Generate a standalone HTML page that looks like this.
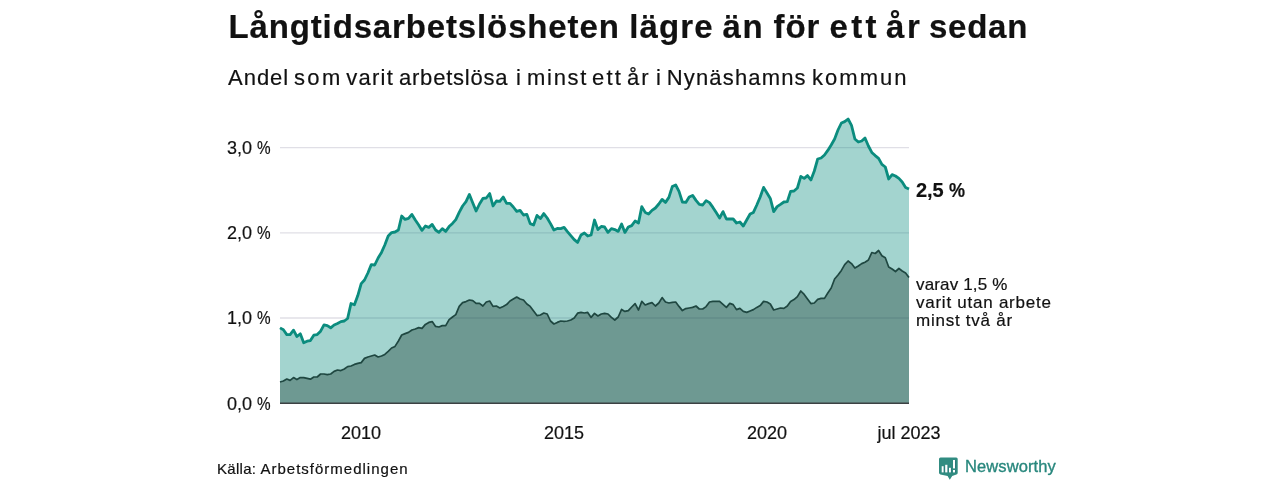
<!DOCTYPE html>
<html><head><meta charset="utf-8">
<style>
html,body{margin:0;padding:0;background:#fff;}
body{width:1280px;height:480px;position:relative;overflow:hidden;-webkit-font-smoothing:antialiased;font-family:"Liberation Sans",sans-serif;color:#111;-webkit-text-stroke:0.2px #111;}
.t{position:absolute;white-space:nowrap;line-height:1;will-change:transform;}
#title{left:0;top:9.5px;font-size:33px;font-weight:bold;letter-spacing:0.94px;}
#sub{left:0;top:66.6px;font-size:22px;letter-spacing:0.955px;}
.yl{position:absolute;font-size:18px;left:227px;line-height:1;white-space:nowrap;will-change:transform;}
.pc{display:inline-block;transform:scaleX(0.85);transform-origin:0 0;}
.xl{position:absolute;font-size:18px;line-height:1;white-space:nowrap;transform:translateX(-50%);will-change:transform;}
#src{left:216.5px;top:460.5px;font-size:15px;letter-spacing:1.0px;}
#v1{left:915.8px;top:179.6px;font-size:20px;font-weight:bold;letter-spacing:-0.1px;}
#v2{left:916px;top:276px;font-size:17px;line-height:18px;letter-spacing:0.75px;}
#v2 span{display:block;}
#nw{left:965px;top:457.5px;font-size:16.5px;color:#28877d;-webkit-text-stroke:0.35px #28877d;letter-spacing:0.1px;}
svg{position:absolute;left:0;top:0;}
</style></head><body>
<svg width="1280" height="480" viewBox="0 0 1280 480">
<g stroke="#e0dfe6" stroke-width="1.3">
<line x1="280" x2="909" y1="147.6" y2="147.6"/>
<line x1="280" x2="909" y1="232.8" y2="232.8"/>
<line x1="280" x2="909" y1="318" y2="318"/>
</g>
<path d="M280.0,327.9 L283.4,329.8 L286.8,334.6 L290.1,334.6 L293.5,330.2 L296.9,336.5 L300.3,333.8 L303.7,342.8 L307.1,341.2 L310.4,340.6 L313.8,335.2 L317.2,334.6 L320.6,331.2 L324.0,324.8 L327.3,325.6 L330.7,327.8 L334.1,325.0 L337.5,323.5 L340.9,321.6 L344.3,321.0 L347.6,318.5 L351.0,303.5 L354.4,304.8 L357.8,295.6 L361.2,283.6 L364.5,280.0 L367.9,273.0 L371.3,264.6 L374.7,265.0 L378.1,258.0 L381.5,252.4 L384.8,245.0 L388.2,236.0 L391.6,232.6 L395.0,232.0 L398.4,230.0 L401.7,216.0 L405.1,219.4 L408.5,218.4 L411.9,214.4 L415.3,220.0 L418.7,225.0 L422.0,230.4 L425.4,226.0 L428.8,227.4 L432.2,224.4 L435.6,230.0 L438.9,232.4 L442.3,228.6 L445.7,231.4 L449.1,226.6 L452.5,223.4 L455.8,219.6 L459.2,212.4 L462.6,206.0 L466.0,201.6 L469.4,194.4 L472.8,203.0 L476.1,211.0 L479.5,204.0 L482.9,198.4 L486.3,198.0 L489.7,193.6 L493.0,206.0 L496.4,201.0 L499.8,201.4 L503.2,197.0 L506.6,203.4 L510.0,203.4 L513.3,207.0 L516.7,211.4 L520.1,210.4 L523.5,215.0 L526.9,214.4 L530.2,223.6 L533.6,225.0 L537.0,215.4 L540.4,218.6 L543.8,213.6 L547.2,218.0 L550.5,223.6 L553.9,230.0 L557.3,228.4 L560.7,228.6 L564.1,227.4 L567.4,231.6 L570.8,235.6 L574.2,239.6 L577.6,242.4 L581.0,235.0 L584.4,233.0 L587.7,236.0 L591.1,235.0 L594.5,220.0 L597.9,229.6 L601.3,226.4 L604.6,227.0 L608.0,232.4 L611.4,228.6 L614.8,229.6 L618.2,231.4 L621.6,224.0 L624.9,232.4 L628.3,227.0 L631.7,225.6 L635.1,221.0 L638.5,223.0 L641.8,206.6 L645.2,212.4 L648.6,214.0 L652.0,210.4 L655.4,208.0 L658.8,204.0 L662.1,199.4 L665.5,202.4 L668.9,197.4 L672.3,186.6 L675.7,185.0 L679.0,191.4 L682.4,202.0 L685.8,202.4 L689.2,197.0 L692.6,195.4 L696.0,200.4 L699.3,204.4 L702.7,205.0 L706.1,200.6 L709.5,202.6 L712.9,207.4 L716.2,212.6 L719.6,218.0 L723.0,211.6 L726.4,219.0 L729.8,219.0 L733.2,219.0 L736.5,223.0 L739.9,222.0 L743.3,226.0 L746.7,220.0 L750.1,214.0 L753.4,212.4 L756.8,205.0 L760.2,197.0 L763.6,187.4 L767.0,193.0 L770.3,198.4 L773.7,211.6 L777.1,206.6 L780.5,204.4 L783.9,202.0 L787.3,201.6 L790.6,191.4 L794.0,191.0 L797.4,188.0 L800.8,176.4 L804.2,178.4 L807.5,175.6 L810.9,180.0 L814.3,171.0 L817.7,159.0 L821.1,158.0 L824.5,155.0 L827.8,150.4 L831.2,145.0 L834.6,139.0 L838.0,130.0 L841.4,123.0 L844.7,121.6 L848.1,119.0 L851.5,125.4 L854.9,139.0 L858.3,142.0 L861.7,141.0 L865.0,138.0 L868.4,146.0 L871.8,152.4 L875.2,155.6 L878.6,158.4 L881.9,164.4 L885.3,167.0 L888.7,179.0 L892.1,174.6 L895.5,176.0 L898.9,178.4 L902.2,182.0 L905.6,187.4 L909.0,189.0 L909.0,403.3 L280.0,403.3 Z" fill="rgb(0,136,122)" fill-opacity="0.36"/>
<path d="M280.0,382.0 L283.4,381.0 L286.8,379.0 L290.1,380.4 L293.5,377.6 L296.9,379.6 L300.3,377.6 L303.7,377.6 L307.1,378.4 L310.4,379.2 L313.8,377.0 L317.2,377.0 L320.6,374.0 L324.0,374.0 L327.3,374.6 L330.7,374.0 L334.1,371.4 L337.5,370.0 L340.9,370.6 L344.3,369.0 L347.6,366.6 L351.0,366.0 L354.4,364.4 L357.8,363.4 L361.2,362.6 L364.5,358.4 L367.9,357.0 L371.3,356.0 L374.7,355.0 L378.1,357.0 L381.5,356.0 L384.8,354.4 L388.2,351.4 L391.6,348.0 L395.0,346.4 L398.4,341.0 L401.7,335.0 L405.1,333.6 L408.5,332.4 L411.9,330.0 L415.3,329.0 L418.7,327.6 L422.0,328.4 L425.4,324.4 L428.8,322.4 L432.2,321.6 L435.6,326.4 L438.9,327.0 L442.3,325.6 L445.7,325.6 L449.1,319.6 L452.5,317.0 L455.8,314.6 L459.2,306.4 L462.6,302.6 L466.0,301.6 L469.4,300.0 L472.8,300.6 L476.1,303.4 L479.5,303.4 L482.9,306.0 L486.3,302.0 L489.7,301.0 L493.0,306.4 L496.4,306.0 L499.8,308.0 L503.2,306.4 L506.6,304.6 L510.0,301.0 L513.3,299.0 L516.7,297.0 L520.1,299.0 L523.5,300.0 L526.9,304.0 L530.2,306.4 L533.6,311.0 L537.0,315.6 L540.4,315.0 L543.8,313.0 L547.2,314.0 L550.5,321.0 L553.9,324.0 L557.3,322.4 L560.7,321.0 L564.1,321.4 L567.4,321.0 L570.8,320.0 L574.2,318.0 L577.6,313.2 L581.0,312.4 L584.4,313.0 L587.7,312.4 L591.1,317.4 L594.5,313.4 L597.9,316.0 L601.3,314.0 L604.6,313.4 L608.0,314.0 L611.4,317.4 L614.8,320.0 L618.2,317.0 L621.6,309.4 L624.9,311.4 L628.3,310.6 L631.7,307.0 L635.1,303.6 L638.5,310.0 L641.8,301.4 L645.2,305.0 L648.6,303.6 L652.0,302.6 L655.4,306.0 L658.8,303.0 L662.1,297.6 L665.5,302.0 L668.9,303.0 L672.3,302.4 L675.7,302.0 L679.0,306.4 L682.4,310.6 L685.8,308.6 L689.2,308.0 L692.6,307.4 L696.0,306.0 L699.3,309.0 L702.7,309.0 L706.1,306.6 L709.5,302.0 L712.9,301.4 L716.2,301.4 L719.6,301.4 L723.0,304.4 L726.4,307.4 L729.8,303.4 L733.2,304.6 L736.5,309.6 L739.9,308.4 L743.3,311.4 L746.7,312.4 L750.1,311.0 L753.4,309.6 L756.8,307.4 L760.2,305.6 L763.6,301.4 L767.0,302.0 L770.3,304.0 L773.7,310.0 L777.1,309.0 L780.5,308.0 L783.9,308.4 L787.3,306.0 L790.6,301.4 L794.0,299.6 L797.4,296.6 L800.8,291.0 L804.2,294.4 L807.5,299.0 L810.9,303.6 L814.3,303.0 L817.7,299.4 L821.1,298.4 L824.5,298.4 L827.8,293.0 L831.2,288.0 L834.6,279.0 L838.0,275.0 L841.4,270.4 L844.7,264.6 L848.1,261.0 L851.5,263.6 L854.9,268.0 L858.3,266.0 L861.7,263.6 L865.0,262.2 L868.4,260.0 L871.8,252.5 L875.2,253.5 L878.6,250.5 L881.9,255.8 L885.3,257.8 L888.7,267.0 L892.1,269.0 L895.5,271.5 L898.9,268.5 L902.2,271.0 L905.6,273.0 L909.0,277.5 L909.0,403.3 L280.0,403.3 Z" fill="rgb(30,64,54)" fill-opacity="0.4"/>
<path d="M280.0,327.9 L283.4,329.8 L286.8,334.6 L290.1,334.6 L293.5,330.2 L296.9,336.5 L300.3,333.8 L303.7,342.8 L307.1,341.2 L310.4,340.6 L313.8,335.2 L317.2,334.6 L320.6,331.2 L324.0,324.8 L327.3,325.6 L330.7,327.8 L334.1,325.0 L337.5,323.5 L340.9,321.6 L344.3,321.0 L347.6,318.5 L351.0,303.5 L354.4,304.8 L357.8,295.6 L361.2,283.6 L364.5,280.0 L367.9,273.0 L371.3,264.6 L374.7,265.0 L378.1,258.0 L381.5,252.4 L384.8,245.0 L388.2,236.0 L391.6,232.6 L395.0,232.0 L398.4,230.0 L401.7,216.0 L405.1,219.4 L408.5,218.4 L411.9,214.4 L415.3,220.0 L418.7,225.0 L422.0,230.4 L425.4,226.0 L428.8,227.4 L432.2,224.4 L435.6,230.0 L438.9,232.4 L442.3,228.6 L445.7,231.4 L449.1,226.6 L452.5,223.4 L455.8,219.6 L459.2,212.4 L462.6,206.0 L466.0,201.6 L469.4,194.4 L472.8,203.0 L476.1,211.0 L479.5,204.0 L482.9,198.4 L486.3,198.0 L489.7,193.6 L493.0,206.0 L496.4,201.0 L499.8,201.4 L503.2,197.0 L506.6,203.4 L510.0,203.4 L513.3,207.0 L516.7,211.4 L520.1,210.4 L523.5,215.0 L526.9,214.4 L530.2,223.6 L533.6,225.0 L537.0,215.4 L540.4,218.6 L543.8,213.6 L547.2,218.0 L550.5,223.6 L553.9,230.0 L557.3,228.4 L560.7,228.6 L564.1,227.4 L567.4,231.6 L570.8,235.6 L574.2,239.6 L577.6,242.4 L581.0,235.0 L584.4,233.0 L587.7,236.0 L591.1,235.0 L594.5,220.0 L597.9,229.6 L601.3,226.4 L604.6,227.0 L608.0,232.4 L611.4,228.6 L614.8,229.6 L618.2,231.4 L621.6,224.0 L624.9,232.4 L628.3,227.0 L631.7,225.6 L635.1,221.0 L638.5,223.0 L641.8,206.6 L645.2,212.4 L648.6,214.0 L652.0,210.4 L655.4,208.0 L658.8,204.0 L662.1,199.4 L665.5,202.4 L668.9,197.4 L672.3,186.6 L675.7,185.0 L679.0,191.4 L682.4,202.0 L685.8,202.4 L689.2,197.0 L692.6,195.4 L696.0,200.4 L699.3,204.4 L702.7,205.0 L706.1,200.6 L709.5,202.6 L712.9,207.4 L716.2,212.6 L719.6,218.0 L723.0,211.6 L726.4,219.0 L729.8,219.0 L733.2,219.0 L736.5,223.0 L739.9,222.0 L743.3,226.0 L746.7,220.0 L750.1,214.0 L753.4,212.4 L756.8,205.0 L760.2,197.0 L763.6,187.4 L767.0,193.0 L770.3,198.4 L773.7,211.6 L777.1,206.6 L780.5,204.4 L783.9,202.0 L787.3,201.6 L790.6,191.4 L794.0,191.0 L797.4,188.0 L800.8,176.4 L804.2,178.4 L807.5,175.6 L810.9,180.0 L814.3,171.0 L817.7,159.0 L821.1,158.0 L824.5,155.0 L827.8,150.4 L831.2,145.0 L834.6,139.0 L838.0,130.0 L841.4,123.0 L844.7,121.6 L848.1,119.0 L851.5,125.4 L854.9,139.0 L858.3,142.0 L861.7,141.0 L865.0,138.0 L868.4,146.0 L871.8,152.4 L875.2,155.6 L878.6,158.4 L881.9,164.4 L885.3,167.0 L888.7,179.0 L892.1,174.6 L895.5,176.0 L898.9,178.4 L902.2,182.0 L905.6,187.4 L909.0,189.0" fill="none" stroke="#0b8c7e" stroke-width="2.8" stroke-linejoin="round" stroke-linecap="butt"/>
<path d="M280.0,382.0 L283.4,381.0 L286.8,379.0 L290.1,380.4 L293.5,377.6 L296.9,379.6 L300.3,377.6 L303.7,377.6 L307.1,378.4 L310.4,379.2 L313.8,377.0 L317.2,377.0 L320.6,374.0 L324.0,374.0 L327.3,374.6 L330.7,374.0 L334.1,371.4 L337.5,370.0 L340.9,370.6 L344.3,369.0 L347.6,366.6 L351.0,366.0 L354.4,364.4 L357.8,363.4 L361.2,362.6 L364.5,358.4 L367.9,357.0 L371.3,356.0 L374.7,355.0 L378.1,357.0 L381.5,356.0 L384.8,354.4 L388.2,351.4 L391.6,348.0 L395.0,346.4 L398.4,341.0 L401.7,335.0 L405.1,333.6 L408.5,332.4 L411.9,330.0 L415.3,329.0 L418.7,327.6 L422.0,328.4 L425.4,324.4 L428.8,322.4 L432.2,321.6 L435.6,326.4 L438.9,327.0 L442.3,325.6 L445.7,325.6 L449.1,319.6 L452.5,317.0 L455.8,314.6 L459.2,306.4 L462.6,302.6 L466.0,301.6 L469.4,300.0 L472.8,300.6 L476.1,303.4 L479.5,303.4 L482.9,306.0 L486.3,302.0 L489.7,301.0 L493.0,306.4 L496.4,306.0 L499.8,308.0 L503.2,306.4 L506.6,304.6 L510.0,301.0 L513.3,299.0 L516.7,297.0 L520.1,299.0 L523.5,300.0 L526.9,304.0 L530.2,306.4 L533.6,311.0 L537.0,315.6 L540.4,315.0 L543.8,313.0 L547.2,314.0 L550.5,321.0 L553.9,324.0 L557.3,322.4 L560.7,321.0 L564.1,321.4 L567.4,321.0 L570.8,320.0 L574.2,318.0 L577.6,313.2 L581.0,312.4 L584.4,313.0 L587.7,312.4 L591.1,317.4 L594.5,313.4 L597.9,316.0 L601.3,314.0 L604.6,313.4 L608.0,314.0 L611.4,317.4 L614.8,320.0 L618.2,317.0 L621.6,309.4 L624.9,311.4 L628.3,310.6 L631.7,307.0 L635.1,303.6 L638.5,310.0 L641.8,301.4 L645.2,305.0 L648.6,303.6 L652.0,302.6 L655.4,306.0 L658.8,303.0 L662.1,297.6 L665.5,302.0 L668.9,303.0 L672.3,302.4 L675.7,302.0 L679.0,306.4 L682.4,310.6 L685.8,308.6 L689.2,308.0 L692.6,307.4 L696.0,306.0 L699.3,309.0 L702.7,309.0 L706.1,306.6 L709.5,302.0 L712.9,301.4 L716.2,301.4 L719.6,301.4 L723.0,304.4 L726.4,307.4 L729.8,303.4 L733.2,304.6 L736.5,309.6 L739.9,308.4 L743.3,311.4 L746.7,312.4 L750.1,311.0 L753.4,309.6 L756.8,307.4 L760.2,305.6 L763.6,301.4 L767.0,302.0 L770.3,304.0 L773.7,310.0 L777.1,309.0 L780.5,308.0 L783.9,308.4 L787.3,306.0 L790.6,301.4 L794.0,299.6 L797.4,296.6 L800.8,291.0 L804.2,294.4 L807.5,299.0 L810.9,303.6 L814.3,303.0 L817.7,299.4 L821.1,298.4 L824.5,298.4 L827.8,293.0 L831.2,288.0 L834.6,279.0 L838.0,275.0 L841.4,270.4 L844.7,264.6 L848.1,261.0 L851.5,263.6 L854.9,268.0 L858.3,266.0 L861.7,263.6 L865.0,262.2 L868.4,260.0 L871.8,252.5 L875.2,253.5 L878.6,250.5 L881.9,255.8 L885.3,257.8 L888.7,267.0 L892.1,269.0 L895.5,271.5 L898.9,268.5 L902.2,271.0 L905.6,273.0 L909.0,277.5" fill="none" stroke="#1f4741" stroke-width="1.7" stroke-linejoin="round" stroke-linecap="butt"/>
<line x1="280" x2="909" y1="403.3" y2="403.3" stroke="#3c4143" stroke-width="1.4"/>
<path d="M940.5,457.5 H956.2 Q957.7,457.5 957.7,459 V472.8 Q957.7,474.2 956.4,474.5 L952.2,476 L949.8,479.8 L947.6,476 L940.4,474.4 Q939,474.1 939,472.7 V459 Q939,457.5 940.5,457.5 Z" fill="#318c81"/>
<g fill="#2a6a78" opacity="0.55"><rect x="943.6" y="466.6" width="1" height="6"/><rect x="947.4" y="465.2" width="1" height="7.2"/><rect x="950.9" y="468.2" width="1" height="4.4"/><rect x="955" y="460.4" width="1" height="8"/><rect x="955" y="470.4" width="1" height="2.2"/></g>
<g fill="#fff"><rect x="941.7" y="466.2" width="1.9" height="6.2"/><rect x="945.2" y="464.8" width="2.2" height="7.6"/><rect x="949" y="467.8" width="1.9" height="4.6"/><rect x="953" y="460" width="2" height="8.4"/><rect x="953" y="470" width="2" height="2.4"/></g>
</svg>
<div class="t" id="title"><span style="position:absolute;left:228.50px;letter-spacing:0.86px">Långtidsarbetslösheten</span><span style="position:absolute;left:629.25px;letter-spacing:1.09px">lägre</span><span style="position:absolute;left:722.50px;letter-spacing:1.69px">än</span><span style="position:absolute;left:773.50px;letter-spacing:0.91px">för</span><span style="position:absolute;left:829.60px;letter-spacing:3.24px">ett</span><span style="position:absolute;left:885.90px;letter-spacing:2.79px">år</span><span style="position:absolute;left:929.00px;letter-spacing:0.74px">sedan</span></div>
<div class="t" id="sub"><span style="position:absolute;left:228.10px;letter-spacing:0.95px">Andel</span><span style="position:absolute;left:294.00px;letter-spacing:2.35px">som</span><span style="position:absolute;left:346.20px;letter-spacing:1.25px">varit</span><span style="position:absolute;left:399.00px;letter-spacing:0.78px">arbetslösa</span><span style="position:absolute;left:515.90px;letter-spacing:0.95px">i</span><span style="position:absolute;left:527.00px;letter-spacing:1.71px">minst</span><span style="position:absolute;left:592.00px;letter-spacing:2.25px">ett</span><span style="position:absolute;left:627.00px;letter-spacing:1.96px">år</span><span style="position:absolute;left:656.00px;letter-spacing:0.95px">i</span><span style="position:absolute;left:666.75px;letter-spacing:1.16px">Nynäshamns</span><span style="position:absolute;left:812.00px;letter-spacing:2.04px">kommun</span></div>
<div class="yl" style="top:139px">3,0 <span class="pc">%</span></div>
<div class="yl" style="top:224px">2,0 <span class="pc">%</span></div>
<div class="yl" style="top:309px">1,0 <span class="pc">%</span></div>
<div class="yl" style="top:395px">0,0 <span class="pc">%</span></div>
<div class="xl" style="left:361px;top:424px">2010</div>
<div class="xl" style="left:564px;top:424px">2015</div>
<div class="xl" style="left:767px;top:424px">2020</div>
<div class="xl" style="left:908.5px;top:424px">jul 2023</div>
<div class="t" id="v1">2,5 <span class="pc" style="transform:scaleX(0.9)">%</span></div>
<div class="t" id="v2"><span style="letter-spacing:0.15px">varav 1,5 %</span><span>varit utan arbete</span><span>minst två år</span></div>
<div class="t" id="src"><span style="letter-spacing:0.3px">Källa:</span><span style="position:absolute;left:43.5px;top:0">Arbetsförmedlingen</span></div>
<div class="t" id="nw">Newsworthy</div>
</body></html>
